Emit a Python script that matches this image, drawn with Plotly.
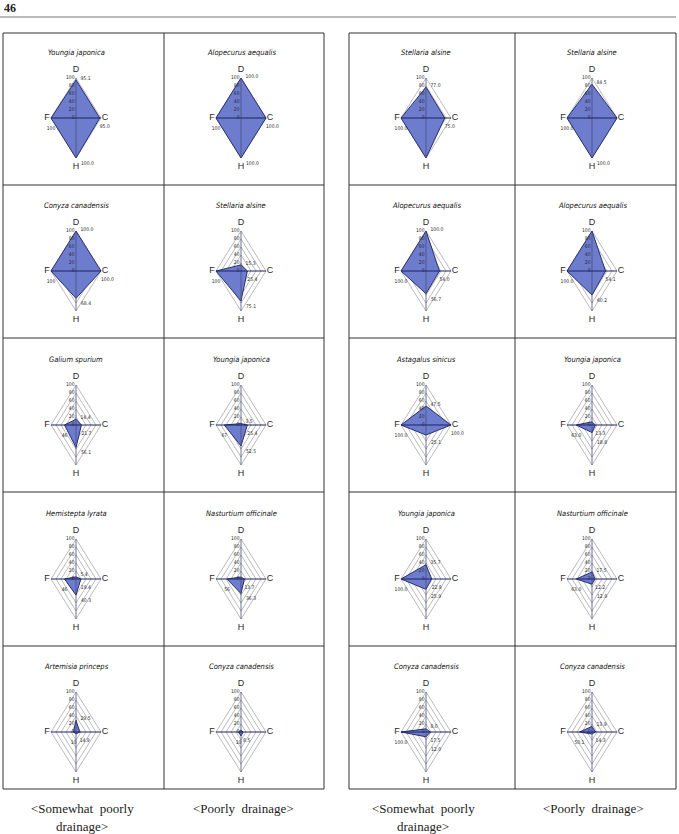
import plotly.graph_objects as go

W, H = 679, 834

titles = ["Youngia japonica", "Alopecurus aequalis", "Stellaria alsine", "Stellaria alsine",
          "Conyza canadensis", "Stellaria alsine", "Alopecurus aequalis", "Alopecurus aequalis",
          "Galium spurium", "Youngia japonica", "Astagalus sinicus", "Youngia japonica",
          "Hemistepta lyrata", "Nasturtium officinale", "Youngia japonica", "Nasturtium officinale",
          "Artemisia princeps", "Conyza canadensis", "Conyza canadensis", "Conyza canadensis"]

d_vals = [95.1, 100.0, 77.0, 84.5, 100.0, 15.3, 100.0, 100.0, 14.4, 3.5,
          47.5, 8.0, 5.4, 5.0, 35.7, 17.5, 29.5, 5.0, 8.0, 13.9]
c_vals = [95.0, 100.0, 75.0, 100.0, 100.0, 25.4, 54.0, 54.1, 21.7, 25.4,
          100.0, 13.3, 19.4, 13.7, 22.9, 12.2, 14.9, 8.5, 17.5, 14.3]
h_vals = [100.0, 100.0, 100.0, 100.0, 68.4, 75.1, 56.7, 60.2, 56.1, 52.5,
          25.1, 18.8, 40.3, 36.3, 25.9, 12.9, 5.0, 10.0, 12.0, 5.0]
f_vals = [100, 100, 100.0, 100.0, 100, 100, 100.0, 100.0, 46, 67,
          100.0, 63.0, 46, 56, 100.0, 63.0, 10, 10, 100.0, 50.1]

d_lbl = ["95.1", "100.0", "77.0", "84.5", "100.0", "15.3", "100.0", "", "14.4", "3.5",
         "47.5", "", "5.4", "", "35.7", "17.5", "29.5", "", "8.0", "13.9"]
c_lbl = ["95.0", "100.0", "75.0", "", "100.0", "25.4", "54.0", "54.1", "21.7", "25.4",
         "100.0", "13.3", "19.4", "13.7", "22.9", "12.2", "14.9", "8.5", "17.5", "14.3"]
h_lbl = ["100.0", "100.0", "", "100.0", "68.4", "75.1", "56.7", "60.2", "56.1", "52.5",
         "25.1", "18.8", "40.3", "36.3", "25.9", "12.9", "", "", "12.0", ""]
f_lbl = ["100", "100", "100.0", "100.0", "100", "100", "100.0", "100.0", "46", "67",
         "100.0", "63.0", "46", "56", "100.0", "63.0", "10", "10", "100.0", "50.1"]

grid_levels = [20, 40, 60, 80, 100]
tick_labels = ["0", "20", "40", "60", "80", "100"]
axis_names = ["D", "C", "H", "F"]

captions = [["<Somewhat  poorly", "drainage>"], ["<Poorly  drainage>"],
            ["<Somewhat  poorly", "drainage>"], ["<Poorly  drainage>"]]

col_cx = [76, 241, 426, 592]
row_cy = [118, 271, 425, 579, 732]
PX_X, PX_Y = 0.25, 0.40       # pixels per data unit
HW, HH = 40, 62               # half size of each chart area (px)

FILL = "rgba(110,124,206,1)"
EDGE = "#27306e"
GRID = "#8c8c8c"
TXT = "#2a2a2a"
NARROW = "Liberation Sans Narrow, DejaVu Sans Condensed, Roboto Condensed, Liberation Sans, sans-serif"

fig = go.Figure()
layout = dict(width=W, height=H, margin=dict(l=0, r=0, t=0, b=0),
              paper_bgcolor="white", plot_bgcolor="rgba(0,0,0,0)", showlegend=False,
              colorway=[TXT])
annotations = []
shapes = []

for i in range(20):
    r, c = divmod(i, 4)
    cx, cy = col_cx[c], row_cy[r]
    k = i + 1
    xa = "x" if k == 1 else f"x{k}"
    ya = "y" if k == 1 else f"y{k}"
    xkey = "xaxis" if k == 1 else f"xaxis{k}"
    ykey = "yaxis" if k == 1 else f"yaxis{k}"
    layout[xkey] = dict(domain=[(cx - HW) / W, (cx + HW) / W], range=[-HW / PX_X, HW / PX_X],
                        visible=False, fixedrange=True, anchor=ya)
    layout[ykey] = dict(domain=[1 - (cy + HH) / H, 1 - (cy - HH) / H], range=[-HH / PX_Y, HH / PX_Y],
                        visible=False, fixedrange=True, anchor=xa)

    # grid diamonds
    for g in grid_levels:
        fig.add_trace(go.Scatter(x=[0, g, 0, -g, 0], y=[g, 0, -g, 0, g], mode="lines",
                                 line=dict(color=GRID, width=0.6), xaxis=xa, yaxis=ya,
                                 hoverinfo="skip"))
    # data polygon
    D, C, Hh, F = d_vals[i], c_vals[i], h_vals[i], f_vals[i]
    fig.add_trace(go.Scatter(x=[0, C, 0, -F, 0], y=[D, 0, -Hh, 0, D], mode="lines",
                             fill="toself", fillcolor=FILL, line=dict(color=EDGE, width=1),
                             xaxis=xa, yaxis=ya, hoverinfo="skip"))
    # axes
    fig.add_trace(go.Scatter(x=[0, 0], y=[-100, 100], mode="lines",
                             line=dict(color="#4a4f7a", width=0.8), xaxis=xa, yaxis=ya,
                             hoverinfo="skip"))
    fig.add_trace(go.Scatter(x=[-100, 100], y=[0, 0], mode="lines",
                             line=dict(color="#1d2260", width=1), xaxis=xa, yaxis=ya,
                             hoverinfo="skip"))
    # tick labels
    fig.add_trace(go.Scatter(x=[-6] * 6, y=[0, 20, 40, 60, 80, 100], mode="text",
                             text=tick_labels, textposition="middle left",
                             textfont=dict(size=5, color=[TXT] * 6, family=NARROW),
                             xaxis=xa, yaxis=ya, hoverinfo="skip"))
    # axis names
    fig.add_trace(go.Scatter(x=[0, 116, 0, -116], y=[121, 0, -123, 0], mode="text",
                             text=axis_names, textposition="middle center",
                             textfont=dict(size=9, color=[TXT] * 4, family="Liberation Sans"),
                             xaxis=xa, yaxis=ya, hoverinfo="skip"))
    # value labels (placed beside each vertex)
    h_ly = min(-Hh - 14, -44)
    fig.add_trace(go.Scatter(x=[18, C, 20, -F], y=[D + 4, -22, h_ly, -26], mode="text",
                             text=[d_lbl[i], c_lbl[i], h_lbl[i], f_lbl[i]],
                             textposition=["middle right", "middle right", "middle right", "middle center"],
                             textfont=dict(size=5, color=[TXT] * 4, family=NARROW),
                             xaxis=xa, yaxis=ya, hoverinfo="skip"))
    # title
    annotations.append(dict(x=cx / W, y=1 - (cy - 66) / H, xref="paper", yref="paper",
                            text=f"<i>{titles[i]}</i>", showarrow=False,
                            font=dict(size=7.5, color="#111", family=NARROW),
                            xanchor="center", yanchor="middle"))

# panel borders
row_edges = [33, 185, 338, 492, 646, 789]
panels = [(3, 164, 324), (349, 515, 676)]
for (x0, xm, x1) in panels:
    for yy in row_edges:
        shapes.append(dict(type="line", xref="paper", yref="paper", x0=x0 / W, x1=x1 / W,
                           y0=1 - yy / H, y1=1 - yy / H, line=dict(color="#333", width=1)))
    for xx in (x0, xm, x1):
        shapes.append(dict(type="line", xref="paper", yref="paper", x0=xx / W, x1=xx / W,
                           y0=1 - 33 / H, y1=1 - 789 / H, line=dict(color="#333", width=1)))

# header rule
shapes.append(dict(type="line", xref="paper", yref="paper", x0=0, x1=676 / W,
                   y0=1 - 17 / H, y1=1 - 17 / H, line=dict(color="#777", width=1)))
annotations.append(dict(x=2 / W, y=1 - 8 / H, xref="paper", yref="paper", text="<b>46</b>",
                        showarrow=False, xanchor="left", yanchor="middle",
                        font=dict(size=12, color="#222", family="Liberation Serif")))

# captions
cap_x = [82, 243, 423, 593]
for j, lines in enumerate(captions):
    for n, txt in enumerate(lines):
        annotations.append(dict(x=cap_x[j] / W, y=1 - (808 + 18 * n) / H, xref="paper", yref="paper",
                                text=txt.replace("<", "&lt;").replace(">", "&gt;"), showarrow=False,
                                xanchor="center", yanchor="middle",
                                font=dict(size=13, color="#222", family="Liberation Serif")))

layout["annotations"] = annotations
layout["shapes"] = shapes
fig.update_layout(**layout)
fig.write_html("out.html")
